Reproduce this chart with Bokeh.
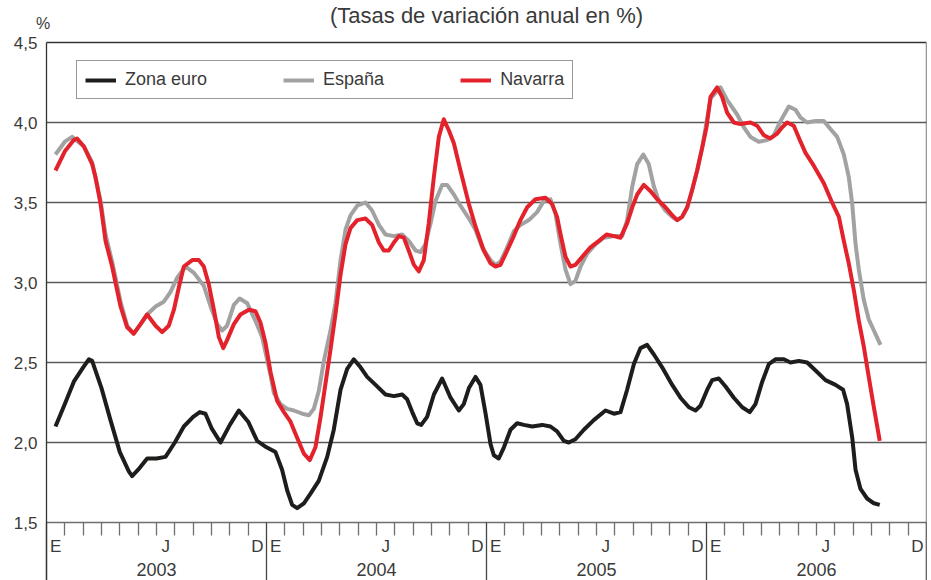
from bokeh.plotting import figure
from bokeh.models import (Range1d, FixedTicker, Legend, LegendItem, Label, LinearAxis, Grid)
from bokeh.embed import file_html
from bokeh.resources import INLINE

# ---------------- data (months since 1 Jan 2003, value in %) ----------------
anios = ["2003", "2004", "2005", "2006"]
meses_etiqueta = ["E", "J", "D"]          # enero, julio, diciembre
meses_etiqueta_idx = [0, 6, 11]
y_ticks = [1.5, 2.0, 2.5, 3.0, 3.5, 4.0, 4.5]
y_etiquetas = ["1,5", "2,0", "2,5", "3,0", "3,5", "4,0", "4,5"]

mes_euro = [0.49, 1.00, 1.49, 2.00, 2.31, 2.49, 3.00, 3.49, 4.00, 4.49, 4.67, 5.00,
            5.49, 6.00, 6.49, 7.00, 7.49, 8.00, 8.36, 8.67, 9.00, 9.49, 10.00, 10.49,
            11.00, 11.49, 12.00, 12.49, 12.85, 13.13, 13.40, 13.67, 14.04, 14.40, 14.85,
            15.31, 15.67, 16.04, 16.40, 16.76, 17.13, 17.49, 17.95, 18.49, 18.95, 19.40,
            19.67, 19.95, 20.22, 20.44, 20.76, 21.13, 21.58, 22.04, 22.49, 22.76, 23.04,
            23.40, 23.67, 23.95, 24.22, 24.40, 24.67, 24.95, 25.31, 25.67, 26.04, 26.49,
            27.04, 27.49, 27.85, 28.22, 28.49, 28.85, 29.31, 29.85, 30.49, 30.95, 31.31,
            31.67, 32.04, 32.40, 32.76, 33.13, 33.58, 34.13, 34.58, 35.04, 35.40, 35.67,
            36.04, 36.31, 36.67, 37.04, 37.49, 37.95, 38.36, 38.67, 39.04, 39.40, 39.76,
            40.22, 40.58, 41.04, 41.49, 41.95, 42.49, 43.04, 43.45, 43.67, 43.95, 44.13,
            44.40, 44.76, 45.13, 45.45]
val_euro = [2.10, 2.24, 2.38, 2.47, 2.52, 2.51, 2.34, 2.14, 1.94, 1.82, 1.79, 1.83,
            1.90, 1.90, 1.91, 2.00, 2.10, 2.16, 2.19, 2.18, 2.09, 2.00, 2.11, 2.20,
            2.13, 2.01, 1.97, 1.94, 1.83, 1.70, 1.61, 1.59, 1.62, 1.68, 1.76,
            1.91, 2.08, 2.33, 2.46, 2.52, 2.47, 2.41, 2.36, 2.30, 2.29, 2.30,
            2.27, 2.19, 2.12, 2.11, 2.16, 2.30, 2.40, 2.28, 2.20, 2.24, 2.34,
            2.41, 2.36, 2.18, 1.99, 1.92, 1.90, 1.97, 2.08, 2.12, 2.11, 2.10,
            2.11, 2.10, 2.07, 2.01, 2.00, 2.02, 2.08, 2.14, 2.20, 2.18, 2.19,
            2.33, 2.49, 2.59, 2.61, 2.55, 2.47, 2.36, 2.28, 2.22, 2.20, 2.23,
            2.33, 2.39, 2.40, 2.35, 2.28, 2.22, 2.19, 2.24, 2.38, 2.49, 2.52,
            2.52, 2.50, 2.51, 2.50, 2.45, 2.39, 2.36, 2.33, 2.24, 2.03, 1.83,
            1.71, 1.65, 1.62, 1.61]

mes_espana = [0.49, 1.00, 1.40, 2.04, 2.49, 2.95, 3.22, 3.58, 4.04, 4.40, 4.76, 5.13,
              5.49, 5.95, 6.40, 6.76, 7.13, 7.58, 8.04, 8.58, 8.95, 9.31, 9.58, 9.85,
              10.22, 10.53, 10.95, 11.40, 11.76, 12.22, 12.40, 12.76, 13.13, 13.49, 13.95,
              14.31, 14.58, 14.85, 15.13, 15.49, 15.76, 16.04, 16.31, 16.58, 16.95, 17.40,
              17.76, 18.13, 18.49, 18.95, 19.40, 19.76, 20.13, 20.40, 20.67, 20.95, 21.22,
              21.58, 21.85, 22.22, 22.58, 23.04, 23.40, 23.76, 24.22, 24.49, 24.76, 25.13,
              25.49, 25.85, 26.31, 26.76, 27.13, 27.49, 27.76, 28.04, 28.31, 28.58, 28.85,
              29.13, 29.49, 29.95, 30.40, 30.95, 31.40, 31.67, 31.95, 32.22, 32.55, 32.85,
              33.13, 33.40, 33.76, 34.13, 34.40, 34.67, 34.95, 35.22, 35.49, 35.76, 36.22,
              36.76, 37.13, 37.67, 38.04, 38.40, 38.85, 39.31, 39.67, 40.04, 40.49, 40.85,
              41.13, 41.49, 41.95, 42.40, 42.76, 43.13, 43.49, 43.76, 43.95, 44.13, 44.31,
              44.58, 44.85, 45.13, 45.49]
val_espana = [3.80, 3.88, 3.91, 3.85, 3.75, 3.51, 3.30, 3.13, 2.88, 2.73, 2.68, 2.74,
              2.80, 2.85, 2.88, 2.94, 3.03, 3.10, 3.06, 2.98, 2.85, 2.74, 2.70, 2.73,
              2.86, 2.90, 2.87, 2.76, 2.66, 2.42, 2.31, 2.24, 2.21, 2.20, 2.18,
              2.17, 2.21, 2.32, 2.51, 2.70, 2.87, 3.14, 3.33, 3.42, 3.48, 3.50,
              3.45, 3.36, 3.30, 3.29, 3.30, 3.26, 3.20, 3.19, 3.24, 3.37, 3.51,
              3.61, 3.61, 3.55, 3.48, 3.40, 3.33, 3.22, 3.14, 3.11, 3.13, 3.22,
              3.32, 3.36, 3.39, 3.44, 3.51, 3.52, 3.43, 3.24, 3.08, 2.99, 3.01,
              3.10, 3.18, 3.24, 3.28, 3.29, 3.29, 3.39, 3.60, 3.74, 3.80, 3.74,
              3.60, 3.51, 3.45, 3.41, 3.39, 3.41, 3.47, 3.58, 3.70, 3.84, 4.15,
              4.22, 4.14, 4.05, 3.97, 3.91, 3.88, 3.89, 3.92, 4.01, 4.10, 4.08,
              4.03, 4.00, 4.01, 4.01, 3.96, 3.91, 3.80, 3.66, 3.49, 3.24, 3.08,
              2.89, 2.77, 2.70, 2.61]

mes_navarra = [0.49, 1.00, 1.49, 1.67, 2.04, 2.49, 2.67, 2.95, 3.22, 3.58, 4.04, 4.40,
               4.76, 5.13, 5.49, 5.95, 6.31, 6.67, 6.95, 7.22, 7.49, 7.95, 8.31, 8.58,
               8.85, 9.13, 9.40, 9.64, 9.85, 10.22, 10.58, 11.04, 11.40, 11.67, 11.95,
               12.22, 12.58, 12.95, 13.31, 13.67, 14.04, 14.36, 14.67, 14.95, 15.22, 15.49,
               15.76, 16.04, 16.31, 16.58, 16.95, 17.40, 17.76, 18.13, 18.40, 18.67, 18.95,
               19.22, 19.49, 19.76, 20.04, 20.31, 20.58, 20.85, 21.13, 21.40, 21.67, 21.95,
               22.22, 22.58, 23.04, 23.40, 23.85, 24.22, 24.49, 24.76, 25.13, 25.49, 25.85,
               26.22, 26.67, 27.22, 27.58, 27.85, 28.04, 28.31, 28.58, 28.85, 29.22, 29.67,
               30.13, 30.55, 30.95, 31.31, 31.67, 31.95, 32.22, 32.58, 32.95, 33.31, 33.76,
               34.13, 34.40, 34.67, 34.95, 35.22, 35.49, 35.76, 36.00, 36.22, 36.58, 36.85,
               37.13, 37.49, 37.85, 38.40, 38.76, 39.13, 39.49, 39.85, 40.13, 40.40, 40.76,
               41.13, 41.40, 41.85, 42.40, 42.85, 43.22, 43.49, 43.76, 44.04, 44.31, 44.58,
               44.85, 45.13, 45.45]
val_navarra = [3.70, 3.82, 3.89, 3.90, 3.85, 3.74, 3.66, 3.49, 3.26, 3.10, 2.85, 2.72,
               2.68, 2.74, 2.80, 2.73, 2.69, 2.73, 2.83, 2.97, 3.10, 3.14, 3.14, 3.10,
               2.99, 2.83, 2.66, 2.59, 2.64, 2.74, 2.80, 2.83, 2.82, 2.75, 2.62,
               2.44, 2.26, 2.19, 2.13, 2.03, 1.93, 1.89, 1.97, 2.16, 2.37, 2.58,
               2.80, 3.05, 3.24, 3.34, 3.39, 3.40, 3.36, 3.25, 3.20, 3.20, 3.25,
               3.29, 3.28, 3.20, 3.11, 3.07, 3.14, 3.37, 3.66, 3.91, 4.02, 3.95,
               3.87, 3.70, 3.49, 3.35, 3.20, 3.12, 3.10, 3.11, 3.20, 3.29, 3.39,
               3.47, 3.52, 3.53, 3.49, 3.41, 3.30, 3.16, 3.10, 3.11, 3.16, 3.22,
               3.26, 3.30, 3.29, 3.28, 3.37, 3.47, 3.55, 3.61, 3.57, 3.52, 3.47,
               3.42, 3.39, 3.41, 3.47, 3.58, 3.70, 3.84, 3.97, 4.16, 4.22, 4.16,
               4.06, 4.00, 3.99, 4.00, 3.98, 3.92, 3.90, 3.93, 3.97, 4.00, 3.98,
               3.88, 3.81, 3.73, 3.62, 3.50, 3.41, 3.26, 3.12, 2.95, 2.76, 2.60,
               2.41, 2.22, 2.01]

# ---------------- layout / styling ----------------
FONT = "Liberation Sans"
TXT = "#3a3a3a"
C_EURO, C_ESP, C_NAV = "#1d1d1b", "#a2a2a2", "#e3222b"

W, H = 931, 580
PLOT_L, PLOT_R = 46, 926          # pixel extent of the months axis
PLOT_T, PLOT_B = 42, 522          # pixel extent of the value axis
n_meses = 12 * len(anios)
y_lo, y_hi = y_ticks[0], y_ticks[-1]
px_mes = (PLOT_R - PLOT_L) / n_meses
px_val = (PLOT_B - PLOT_T) / (y_hi - y_lo)
x_start = -PLOT_L / px_mes
x_end = n_meses
y_bottom = y_lo - (H - PLOT_B) / px_val
y_top = y_hi + PLOT_T / px_val

p = figure(width=W, height=H, x_range=Range1d(x_start, x_end),
           y_range=Range1d(y_bottom, y_top),
           output_backend="svg", toolbar_location=None,
           min_border_left=0, min_border_right=W - PLOT_R, min_border_top=0,
           min_border_bottom=0)
p.background_fill_color = "white"
p.border_fill_color = "white"
p.outline_line_color = None

# lines
r_esp = p.line(mes_espana, val_espana, line_color=C_ESP, line_width=4, line_join="round")
r_nav = p.line(mes_navarra, val_navarra, line_color=C_NAV, line_width=4, line_join="round")
r_eur = p.line(mes_euro, val_euro, line_color=C_EURO, line_width=4, line_join="round")

# horizontal grid, limited to the chart area
p.xgrid.visible = False
p.ygrid.ticker = FixedTicker(ticks=y_ticks[1:-1])
p.ygrid.cross_bounds = (0, n_meses)
p.ygrid.grid_line_color = "#5a5a5a"
p.ygrid.grid_line_width = 1.3
p.add_layout(Grid(dimension=1, ticker=FixedTicker(ticks=[y_hi]), cross_bounds=(0, n_meses),
                  grid_line_color="#333333", grid_line_width=1.3))

# left value axis, fixed at month 0
yax = p.yaxis[0]
yax.fixed_location = 0
yax.bounds = (y_bottom, y_hi)
yax.ticker = FixedTicker(ticks=y_ticks)
yax.major_label_overrides = dict(zip(y_ticks, y_etiquetas))
yax.major_label_text_font = FONT
yax.major_label_text_font_size = "17px"
yax.major_label_text_color = TXT
yax.major_tick_out = 0
yax.major_tick_in = 0
yax.minor_tick_out = 0
yax.minor_tick_in = 0
yax.major_label_standoff = 9
yax.axis_line_color = "#333333"
yax.axis_line_width = 1.3

# right border line
rax = LinearAxis(fixed_location=n_meses, bounds=(y_bottom, y_hi), ticker=FixedTicker(ticks=[]),
                 axis_line_color="#333333", axis_line_width=1.3,
                 major_tick_out=0, minor_tick_out=0, major_label_text_font_size="1px")
p.add_layout(rax, "right")

# month axis: year separators (major) and month boundaries (minor)
year_bounds = [12 * i for i in range(len(anios) + 1)]
month_bounds = [m for m in range(1, n_meses) if m % 12]
xax = p.xaxis[0]
xax.fixed_location = y_lo
xax.bounds = (0, n_meses)
xax.ticker = FixedTicker(ticks=year_bounds, minor_ticks=month_bounds)
xax.major_label_overrides = {t: "" for t in year_bounds}
xax.major_label_text_font_size = "1px"
xax.major_tick_out = H - PLOT_B
xax.major_tick_in = 0
xax.minor_tick_out = 13
xax.minor_tick_in = 0
xax.axis_line_color = "#6e6e6e"
xax.axis_line_width = 1.5
xax.major_tick_line_color = "#444444"
xax.major_tick_line_width = 1.3
xax.minor_tick_line_color = "#6e6e6e"
xax.minor_tick_line_width = 1.3

# month letters E / J / D
mes_pos = [12 * i + idx + 0.5 for i in range(len(anios)) for idx in meses_etiqueta_idx]
mes_txt = [lab for _ in anios for lab in meses_etiqueta]
max_ = LinearAxis(fixed_location=y_lo, ticker=FixedTicker(ticks=mes_pos),
                  major_label_overrides=dict(zip(mes_pos, mes_txt)),
                  axis_line_color=None, major_tick_line_color=None, minor_tick_line_color=None,
                  major_tick_out=0, minor_tick_out=0, major_label_standoff=14,
                  major_label_text_font=FONT, major_label_text_font_size="17px",
                  major_label_text_color=TXT)
p.add_layout(max_, "below")

# year labels
anio_pos = [12 * i + 6 for i in range(len(anios))]
aax = LinearAxis(fixed_location=y_lo, ticker=FixedTicker(ticks=anio_pos),
                 major_label_overrides=dict(zip(anio_pos, anios)),
                 axis_line_color=None, major_tick_line_color=None, minor_tick_line_color=None,
                 major_tick_out=0, minor_tick_out=0, major_label_standoff=40,
                 major_label_text_font=FONT, major_label_text_font_size="18px",
                 major_label_text_color=TXT)
p.add_layout(aax, "below")

# title and unit
p.add_layout(Label(x=n_meses / 2, y=y_hi + (PLOT_T - 2) / px_val,
                   text="(Tasas de variación anual en %)", text_align="center",
                   text_baseline="top", text_font=FONT, text_font_size="22px",
                   text_color=TXT))
p.add_layout(Label(x=-3.5 / px_mes, y=y_hi + (PLOT_T - 23) / px_val, text="%",
                   text_align="center", text_baseline="alphabetic",
                   text_font=FONT, text_font_size="16px", text_color=TXT))

# legend
legend = Legend(items=[LegendItem(label="Zona euro", renderers=[r_eur]),
                       LegendItem(label="España", renderers=[r_esp]),
                       LegendItem(label="Navarra", renderers=[r_nav])],
                orientation="horizontal", location=(76, H - 99),
                label_text_font=FONT, label_text_font_size="18px", label_text_color=TXT,
                glyph_width=31, glyph_height=18, label_height=18, label_standoff=9,
                spacing=76, padding=8, margin=0,
                border_line_color="#333333", border_line_width=1,
                background_fill_color="white", background_fill_alpha=1)
p.add_layout(legend)

with open("out.html", "w") as f:
    f.write(file_html(p, INLINE, "Tasas de variación"))
